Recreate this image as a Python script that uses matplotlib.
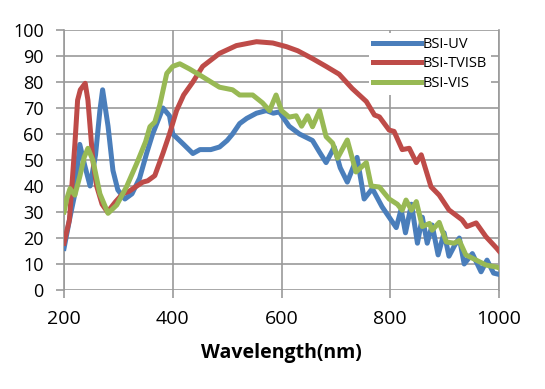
import matplotlib.pyplot as plt

# ------------------------------------------------------------
# Data
# ------------------------------------------------------------

uv_wl = [200, 211, 220, 229, 238, 248, 258, 266, 271, 281, 290, 299, 312, 325,
         339, 352, 363, 382, 394, 400, 420, 437, 450, 470, 486, 500, 510, 523,
         536, 554, 572, 585, 596, 614, 633, 657, 670, 682, 697, 708, 721, 739,
         752, 767, 785, 798, 811, 820, 828, 839, 850, 859, 868, 877, 888, 899,
         908, 918, 927, 936, 951, 967, 978, 990, 1000]
uv_val = [16, 28, 37, 56, 48, 40, 52, 69, 77, 63, 46, 38.5, 35, 37,
          43, 52.6, 60, 70, 67, 60, 56, 52.5, 54, 54, 55, 57.5, 60, 64,
          66, 68, 69, 68, 68.5, 63, 60, 57.5, 53, 49, 55, 47, 41.5, 51,
          35, 39, 32, 28, 24, 31, 22, 33, 18, 28, 18, 25, 13.5, 22,
          13, 17, 20, 10, 14, 7, 11.5, 6.5, 6]

tvisb_wl = [200, 210, 220, 225, 230, 239, 244, 253, 260, 270, 280, 295, 308,
            320, 334, 345, 354, 367, 382, 394, 407, 420, 437, 455, 486, 517,
            554, 584, 609, 630, 657, 682, 706, 730, 756, 771, 780, 798, 807,
            822, 835, 848, 857, 875, 890, 908, 932, 941, 958, 976, 996, 1000]
tvisb_val = [18, 27, 56, 73, 77, 79.5, 73, 50, 40, 33, 30, 34, 37,
             38, 40, 41.5, 42, 44, 52.6, 60, 69, 75, 80, 86, 91, 94,
             95.5, 95, 93.6, 92, 89, 86, 83, 77.5, 72.5, 67.3, 66.6, 61.5, 61,
             54, 54.5, 49, 52, 39.7, 36.5, 30.8, 27, 24.4, 25.8, 20.5, 16, 15]

vis_wl = [200, 205, 211, 220, 229, 237, 244, 253, 266, 281, 297, 315, 334,
          350, 358, 367, 376, 389, 400, 413, 431, 455, 486, 510, 523, 547,
          565, 578, 590, 600, 614, 627, 637, 648, 657, 670, 682, 694, 703,
          721, 737, 756, 765, 780, 798, 813, 822, 829, 839, 848, 859, 872,
          877, 890, 903, 917, 927, 939, 958, 976, 996, 1000]
vis_val = [30, 35, 39, 36.5, 43.6, 51, 54.5, 50, 37, 29.5, 32.7, 39.7, 48.8,
           57, 62.8, 64.6, 71, 83.3, 86, 87, 85, 82, 78, 77, 75, 75,
           72, 69, 75, 69, 66.5, 67, 63, 67, 62.8, 69, 59, 56.5, 50.7,
           57.7, 45.4, 49, 40, 39.6, 35, 33, 30.7, 34.6, 30.7, 34, 24.4, 25.6,
           23, 26, 18.5, 18, 19, 13.5, 11.5, 9.6, 8.8, 8.5]

x_ticks = [200, 400, 600, 800, 1000]
y_ticks = list(range(0, 101, 10))

# ------------------------------------------------------------
# Plot
# ------------------------------------------------------------

plt.rcParams["font.family"] = ["Open Sans", "DejaVu Sans"]

grid_color = "#9a9a9a"

fig = plt.figure(figsize=(5.45, 3.89), dpi=100)
ax = fig.add_axes([64 / 545, 1 - 290 / 389, 435 / 545, 260 / 389])

ax.plot(uv_wl, uv_val, color="#4a7ebb", lw=3.6, label="BSI-UV",
        solid_joinstyle="round", zorder=3)
ax.plot(tvisb_wl, tvisb_val, color="#be4b48", lw=3.6, label="BSI-TVISB",
        solid_joinstyle="round", zorder=3)
ax.plot(vis_wl, vis_val, color="#98b954", lw=3.6, label="BSI-VIS",
        solid_joinstyle="round", zorder=3)

ax.set_xlim(200, 1000)
ax.set_ylim(0, 100)
ax.set_xticks(x_ticks)
ax.set_yticks(y_ticks)
ax.tick_params(axis="x", labelsize=14, length=5.5, width=1.2,
               color=grid_color, pad=9)
ax.tick_params(axis="y", labelsize=13, length=5.5, width=1.2,
               color=grid_color, pad=9)

ax.grid(True, color=grid_color, lw=1.2)
ax.set_axisbelow(True)
for side in ["top", "bottom"]:
    ax.spines[side].set_visible(False)
for side in ["left", "right"]:
    ax.spines[side].set_color(grid_color)
    ax.spines[side].set_linewidth(1.2)

ax.set_xlabel("Wavelength(nm)", fontsize=14, fontweight="bold", labelpad=11)

leg = ax.legend(loc="upper left", bbox_to_anchor=(0.7, 0.99),
                fontsize=10.5, handlelength=3.3, handletextpad=0.1,
                labelspacing=0.3, borderpad=0.3, borderaxespad=0,
                frameon=True, fancybox=False)
leg.get_frame().set_facecolor("white")
leg.get_frame().set_edgecolor("none")
leg.get_frame().set_alpha(1)
for line in leg.get_lines():
    line.set_linewidth(3.6)

fig.savefig("out.png", dpi=100)
